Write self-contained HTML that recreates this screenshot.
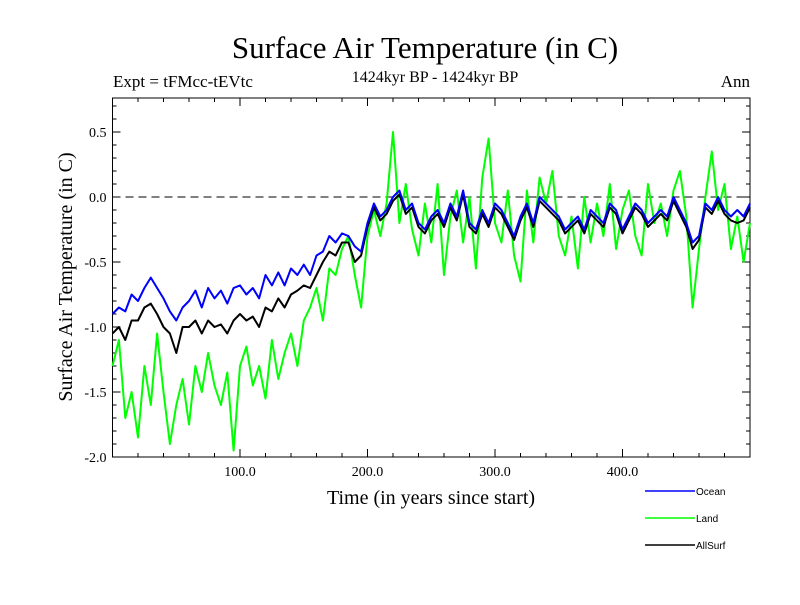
<!DOCTYPE html>
<html><head><meta charset="utf-8"><style>
body{margin:0;background:#fff}
svg text{font-family:"Liberation Serif",serif;fill:#000}
</style></head><body>
<svg id="c" width="800" height="600" xmlns="http://www.w3.org/2000/svg">
<text x="425" y="58" font-size="31" text-anchor="middle">Surface Air Temperature (in C)</text>
<text x="113" y="87" font-size="17">Expt = tFMcc-tEVtc</text>
<text x="435" y="82" font-size="16" text-anchor="middle">1424kyr BP - 1424kyr BP</text>
<text x="750" y="87" font-size="17" text-anchor="end">Ann</text>
<text transform="translate(72,277) rotate(-90)" font-size="20" text-anchor="middle">Surface Air Temperature (in C)</text>
<text x="431" y="504" font-size="20" text-anchor="middle">Time (in years since start)</text>
<g id="axes"></g>
<g id="series"></g>
<g font-family="Liberation Sans,sans-serif">
<line x1="645" y1="491" x2="695" y2="491" stroke="#0000ff" stroke-width="1.5"/>
<text x="696" y="495" font-size="10" style="font-family:'Liberation Sans',sans-serif">Ocean</text>
<line x1="645" y1="518" x2="695" y2="518" stroke="#00ff00" stroke-width="1.5"/>
<text x="696" y="522" font-size="10" style="font-family:'Liberation Sans',sans-serif">Land</text>
<line x1="645" y1="545" x2="695" y2="545" stroke="#000" stroke-width="1.5"/>
<text x="696" y="549" font-size="10" style="font-family:'Liberation Sans',sans-serif">AllSurf</text>
</g>
</svg>
<script>
const years = Array.from({length:101},(_,i)=>i*5);
const ocean = [-0.9,-0.85,-0.88,-0.75,-0.8,-0.7,-0.62,-0.7,-0.78,-0.88,-0.95,-0.85,-0.8,-0.72,-0.85,-0.7,-0.78,-0.72,-0.82,-0.7,-0.68,-0.75,-0.7,-0.78,-0.6,-0.68,-0.58,-0.68,-0.55,-0.6,-0.52,-0.6,-0.45,-0.42,-0.3,-0.35,-0.28,-0.3,-0.38,-0.42,-0.2,-0.05,-0.15,-0.1,0.0,0.05,-0.1,-0.05,-0.2,-0.25,-0.15,-0.1,-0.2,-0.05,-0.15,0.05,-0.2,-0.25,-0.1,-0.2,-0.05,-0.1,-0.2,-0.3,-0.15,-0.05,-0.2,0.0,-0.05,-0.1,-0.15,-0.25,-0.2,-0.15,-0.25,-0.1,-0.15,-0.2,-0.05,-0.1,-0.25,-0.15,-0.05,-0.1,-0.2,-0.15,-0.1,-0.15,0.0,-0.1,-0.2,-0.35,-0.3,-0.05,-0.1,0.0,-0.1,-0.15,-0.1,-0.15,-0.05];
const allsurf = [-1.05,-1.0,-1.1,-0.95,-0.95,-0.85,-0.82,-0.9,-1.0,-1.05,-1.2,-1.0,-1.0,-0.95,-1.05,-0.95,-1.0,-0.98,-1.05,-0.95,-0.9,-0.95,-0.92,-1.0,-0.85,-0.88,-0.78,-0.85,-0.75,-0.72,-0.68,-0.7,-0.6,-0.5,-0.42,-0.45,-0.35,-0.35,-0.5,-0.45,-0.23,-0.08,-0.18,-0.13,-0.03,0.02,-0.13,-0.08,-0.23,-0.28,-0.18,-0.13,-0.23,-0.08,-0.18,0.02,-0.23,-0.28,-0.13,-0.23,-0.08,-0.13,-0.23,-0.33,-0.18,-0.08,-0.23,-0.03,-0.08,-0.13,-0.18,-0.28,-0.23,-0.18,-0.28,-0.13,-0.18,-0.23,-0.08,-0.13,-0.28,-0.18,-0.08,-0.13,-0.23,-0.18,-0.13,-0.18,-0.03,-0.13,-0.23,-0.4,-0.33,-0.08,-0.13,-0.03,-0.13,-0.18,-0.2,-0.18,-0.08];
const land = [-1.3,-1.1,-1.7,-1.5,-1.85,-1.3,-1.6,-1.05,-1.5,-1.9,-1.6,-1.4,-1.75,-1.3,-1.5,-1.2,-1.45,-1.6,-1.35,-1.95,-1.3,-1.15,-1.45,-1.3,-1.55,-1.1,-1.4,-1.2,-1.05,-1.3,-0.95,-0.85,-0.7,-0.95,-0.55,-0.6,-0.4,-0.3,-0.6,-0.85,-0.3,-0.1,-0.3,-0.05,0.5,-0.2,0.1,-0.25,-0.45,-0.05,-0.35,0.1,-0.6,-0.15,0.05,-0.35,0.0,-0.55,0.15,0.45,-0.2,-0.35,0.05,-0.45,-0.65,0.05,-0.35,0.15,-0.05,0.2,-0.3,-0.45,-0.15,-0.55,0.0,-0.35,-0.05,-0.3,0.1,-0.4,-0.1,0.05,-0.3,-0.45,0.1,-0.2,-0.05,-0.3,0.05,0.2,-0.15,-0.85,-0.4,0.0,0.35,-0.1,0.1,-0.4,-0.15,-0.5,-0.2];
const yTicks = [0.5,0.0,-0.5,-1.0,-1.5,-2.0];
const yTickLabels = ["0.5","0.0","-0.5","-1.0","-1.5","-2.0"];
const xTicks = [100,200,300,400];
const xTickLabels = ["100.0","200.0","300.0","400.0"];

const NS="http://www.w3.org/2000/svg";
const L=112.5,R=750,T=98,B=457;
const xs=v=>L+(v/500)*(R-L);
const ys=v=>197-v*130;
function mk(tag,attrs,parent){const e=document.createElementNS(NS,tag);for(const k in attrs)e.setAttribute(k,attrs[k]);parent.appendChild(e);return e;}
const ax=document.getElementById('axes');
const fr=mk('rect',{x:L,y:T,width:R-L,height:B-T,fill:'none',stroke:'#000','stroke-width':1},ax);


const zl=mk('line',{x1:L,x2:R,y1:ys(0),y2:ys(0),stroke:'#000','stroke-dasharray':'8,5','stroke-width':1},ax);


for(let v=-2.0;v<=0.75;v+=0.1){const y=ys(v);const maj=Math.abs(v*2-Math.round(v*2))<1e-6;const len=maj?8:4;
 mk('line',{x1:L,x2:L+len,y1:y,y2:y,stroke:'#000'},ax);mk('line',{x1:R,x2:R-len,y1:y,y2:y,stroke:'#000'},ax);}
for(let v=20;v<500;v+=20){const x=xs(v);const maj=v%100===0;const len=maj?8:4;
 mk('line',{x1:x,x2:x,y1:B,y2:B-len,stroke:'#000'},ax);mk('line',{x1:x,x2:x,y1:T,y2:T+len,stroke:'#000'},ax);}
yTicks.forEach((v,i)=>{const t=mk('text',{x:L-6,y:ys(v)+5,'font-size':14,'text-anchor':'end'},ax);t.textContent=yTickLabels[i];
 
 });
xTicks.forEach((v,i)=>{const t=mk('text',{x:xs(v),y:476,'font-size':14,'text-anchor':'middle'},ax);t.textContent=xTickLabels[i];
 
 });
const sg=document.getElementById('series');
function line(vals,col,name){const d=vals.map((v,i)=>(i?'L':'M')+xs(years[i]).toFixed(1)+','+ys(v).toFixed(1)).join('');
 const p=mk('path',{d:d,fill:'none',stroke:col,'stroke-width':2,'stroke-linejoin':'round'},sg);
 
 }
line(land,'#00ff00','land-line');
line(allsurf,'#000000','allsurf-line');
line(ocean,'#0000ff','ocean-line');
</script>
</body></html>
